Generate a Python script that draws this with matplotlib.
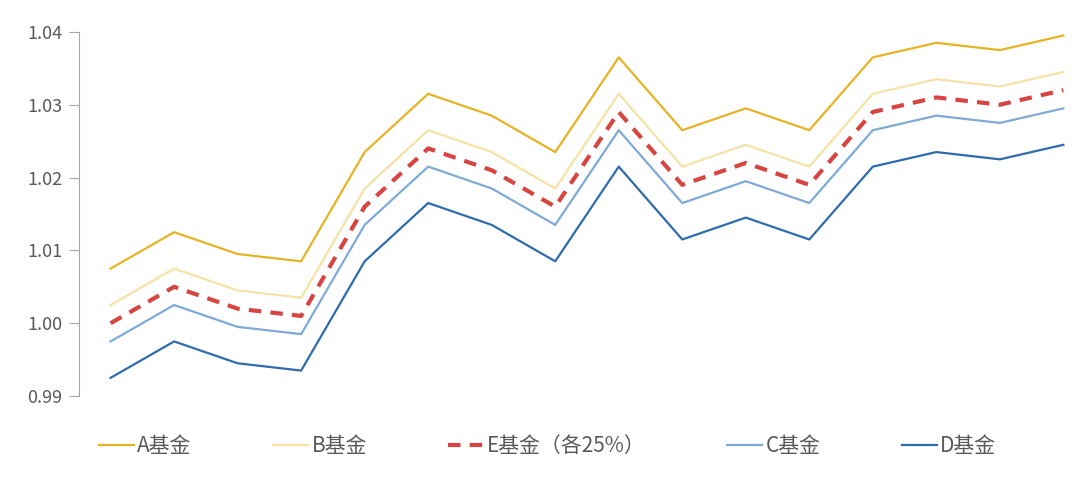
import matplotlib
matplotlib.use('Agg')
import matplotlib.pyplot as plt

plt.rcParams['font.family'] = ['Noto Sans CJK SC', 'DejaVu Sans']

# 16 periods, no x labels shown
periods = list(range(16))

fund_a = [1.0075, 1.0125, 1.0095, 1.0085, 1.0235, 1.0315, 1.0285, 1.0235,
          1.0365, 1.0265, 1.0295, 1.0265, 1.0365, 1.0385, 1.0375, 1.0395]
fund_b = [1.0025, 1.0075, 1.0045, 1.0035, 1.0185, 1.0265, 1.0235, 1.0185,
          1.0315, 1.0215, 1.0245, 1.0215, 1.0315, 1.0335, 1.0325, 1.0345]
fund_e = [1.0000, 1.0050, 1.0020, 1.0010, 1.0160, 1.0240, 1.0210, 1.0160,
          1.0290, 1.0190, 1.0220, 1.0190, 1.0290, 1.0310, 1.0300, 1.0320]
fund_c = [0.9975, 1.0025, 0.9995, 0.9985, 1.0135, 1.0215, 1.0185, 1.0135,
          1.0265, 1.0165, 1.0195, 1.0165, 1.0265, 1.0285, 1.0275, 1.0295]
fund_d = [0.9925, 0.9975, 0.9945, 0.9935, 1.0085, 1.0165, 1.0135, 1.0085,
          1.0215, 1.0115, 1.0145, 1.0115, 1.0215, 1.0235, 1.0225, 1.0245]

y_ticks = [0.99, 1.00, 1.01, 1.02, 1.03, 1.04]

fig = plt.figure(figsize=(10.8, 4.83), dpi=100)
ax = fig.add_axes([0.073, 0.18, 0.941, 0.754])

ax.plot(periods, fund_a, color='#E6B325', lw=1.6, label='A基金')
ax.plot(periods, fund_b, color='#F6E2A6', lw=1.6, label='B基金')
ax.plot(periods, fund_e, color='#D64541', lw=3, linestyle=(0, (3, 2.2)),
        label='E基金（各25%）')
ax.plot(periods, fund_c, color='#80AAD6', lw=1.6, label='C基金')
ax.plot(periods, fund_d, color='#2F6CAE', lw=1.6, label='D基金')

ax.set_xlim(-0.5, 15.5)
ax.set_ylim(0.99, 1.04)
ax.set_yticks(y_ticks)
ax.set_yticklabels([f'{v:.2f}' for v in y_ticks])
ax.set_xticks([])

for s in ['top', 'right', 'bottom']:
    ax.spines[s].set_visible(False)
ax.spines['left'].set_color('#A6A6A6')
ax.spines['left'].set_linewidth(0.8)
ax.tick_params(axis='y', colors='#A6A6A6', labelcolor='#595959',
               labelsize=13, length=7, width=0.8, pad=5)

leg = fig.legend(loc='center', bbox_to_anchor=(0.507, 0.076), ncol=5,
                 frameon=False, fontsize=15, handlelength=1.7,
                 handletextpad=0.15, columnspacing=3.9)
for t in leg.get_texts():
    t.set_color('#595959')

fig.savefig('out.png', dpi=100)
